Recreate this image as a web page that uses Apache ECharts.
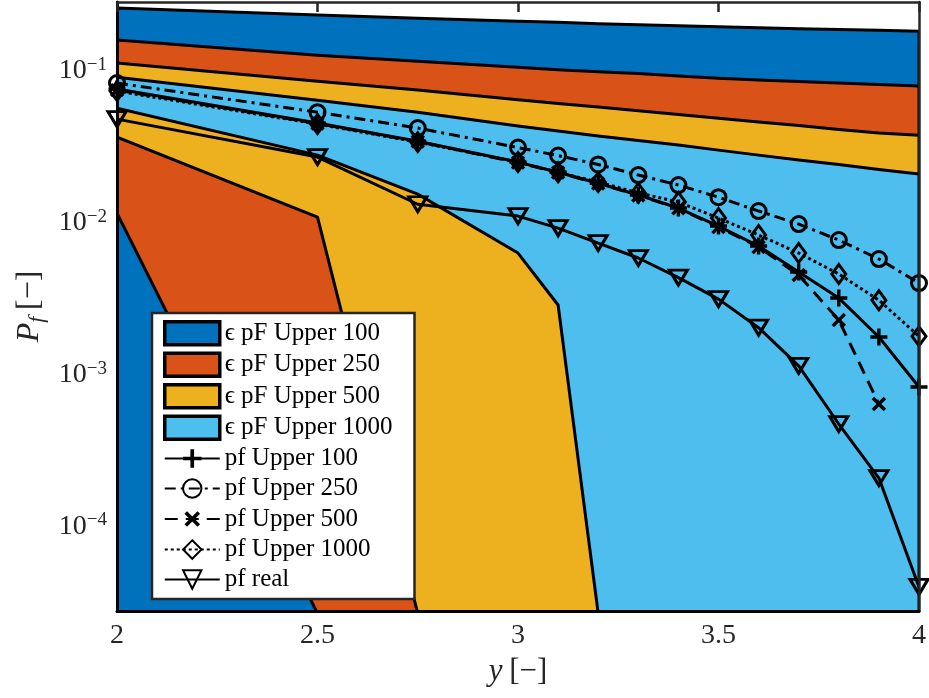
<!DOCTYPE html>
<html>
<head>
<meta charset="utf-8">
<script src="https://cdn.jsdelivr.net/npm/echarts@6/dist/echarts.min.js"></script>
<style>
html, body { margin: 0; padding: 0; background: #fff; }
#chart { width: 929px; height: 698px; }
</style>
</head>
<body>
<div id="chart"></div>
<script>
var FONT = 'Liberation Serif';

var xs = [2, 2.5, 2.75, 3, 3.1, 3.2, 3.3, 3.4, 3.5, 3.6, 3.7, 3.8, 3.9, 4];

// epsilon pF bands: upper and lower edges (lower edges run off the bottom of the axis)
var bandUp100  = [0.260, 0.234, 0.223, 0.213, 0.210, 0.205, 0.202, 0.199, 0.196, 0.193, 0.190, 0.188, 0.186, 0.183];
var bandLo100  = [1e-6, 1e-6, 1e-6, 1e-6, 1e-6, 1e-6, 1e-6, 1e-6, 1e-6, 1e-6, 1e-6, 1e-6, 1e-6, 1e-6];
var bandUp250  = [0.160, 0.127, 0.116, 0.106, 0.102, 0.0992, 0.0963, 0.0927, 0.0899, 0.0873, 0.0853, 0.0834, 0.0815, 0.0797];
var bandLo250  = [0.01164, 2.7e-5, 1e-6, 1e-6, 1e-6, 1e-6, 1e-6, 1e-6, 1e-6, 1e-6, 1e-6, 1e-6, 1e-6, 1e-6];
var bandUp500  = [0.113, 0.0859, 0.0750, 0.0648, 0.0613, 0.0580, 0.0548, 0.0518, 0.0490, 0.0463, 0.0438, 0.0413, 0.0391, 0.0379];
var bandLo500  = [0.0368, 0.01095, 2.7e-5, 1e-6, 1e-6, 1e-6, 1e-6, 1e-6, 1e-6, 1e-6, 1e-6, 1e-6, 1e-6, 1e-6];
var bandUp1000 = [0.0913, 0.0644, 0.0537, 0.0435, 0.0403, 0.0374, 0.0349, 0.0326, 0.0302, 0.0280, 0.0260, 0.0243, 0.0225, 0.0210];
var bandLo1000 = [0.0571, 0.0280, 0.0155, 0.00635, 0.00289, 2.7e-5, 1e-6, 1e-6, 1e-6, 1e-6, 1e-6, 1e-6, 1e-6, 1e-6];

// pf curves
var pfUpper100  = [0.0762, 0.0455, 0.0346, 0.0252, 0.0216, 0.0183, 0.0153, 0.01256, 0.00956, 0.00706, 0.00476, 0.00321, 0.00178, 0.000834];
var pfUpper250  = [0.0834, 0.0537, 0.0422, 0.0314, 0.0278, 0.0243, 0.0207, 0.0178, 0.0148, 0.0120, 0.00985, 0.00773, 0.00580, 0.00403];
var pfUpper500  = [0.0750, 0.0452, 0.0344, 0.0250, 0.0215, 0.0182, 0.0152, 0.01250, 0.00941, 0.00695, 0.00455, 0.00230, 0.000645, null];
var pfUpper1000 = [0.0739, 0.0448, 0.0341, 0.0252, 0.0216, 0.0186, 0.0158, 0.01375, 0.01079, 0.00834, 0.00635, 0.00462, 0.00311, 0.00180];
var pfReal      = [0.0483, 0.0272, 0.0133, 0.01112, 0.00927, 0.00739, 0.00589, 0.00438, 0.00316, 0.00205, 0.00115, 0.000476, 0.000210, 0.0000403];

var yTickMin = 2.8e-5, yTickMax = 0.285;

var chart = echarts.init(document.getElementById('chart'));

function pairs(arr) {
    return xs.map(function (x, i) { return [x, arr[i] == null ? '-' : arr[i]]; });
}

function band(name, color, up, lo) {
    var poly = [];
    for (var i = 0; i < xs.length; i++) poly.push([xs[i], up[i]]);
    for (var j = xs.length - 1; j >= 0; j--) poly.push([xs[j], lo[j]]);
    return {
        name: name,
        type: 'custom',
        clip: true,
        z: 1,
        itemStyle: { color: color },
        encode: { x: 0, y: 1 },
        data: poly,
        renderItem: function (params, api) {
            if (params.dataIndex !== 0) return;
            var pts = poly.map(function (p) { return api.coord(p); });
            return {
                type: 'polygon',
                shape: { points: pts },
                style: { fill: color, stroke: '#000', lineWidth: 3, lineJoin: 'round' }
            };
        }
    };
}

var plusPath = 'path://M6,0H9V6H15V9H9V15H6V9H0V6H6Z';

function pfLine(name, arr, dash, symbol, size, rotate, filled) {
    return {
        name: name,
        type: 'line',
        z: 2,
        data: pairs(arr),
        symbol: symbol,
        symbolSize: size,
        symbolRotate: rotate,
        symbolKeepAspect: true,
        showAllSymbol: true,
        lineStyle: { color: '#000', width: 3, type: dash },
        itemStyle: filled
            ? { color: '#000', borderWidth: 0 }
            : { color: 'rgba(255,255,255,0)', borderColor: '#000', borderWidth: 3 }
    };
}

var bandColors = ['#0072BD', '#D95319', '#EDB120', '#4DBEEE'];
var bandNames = ['ϵ pF Upper 100', 'ϵ pF Upper 250', 'ϵ pF Upper 500', 'ϵ pF Upper 1000'];
var lineNames = ['pf Upper 100', 'pf Upper 250', 'pf Upper 500', 'pf Upper 1000', 'pf real'];

var legendData = bandNames.map(function (n, i) {
    return { name: n, icon: 'rect', itemStyle: { color: bandColors[i], borderColor: '#000', borderWidth: 3.5 } };
}).concat(lineNames.map(function (n) { return { name: n }; }));

option = {
    animation: false,
    backgroundColor: '#fff',
    grid: { left: 117, right: 8, top: 2, bottom: 87 },
    legend: {
        orient: 'vertical',
        left: 152,
        top: 313,
        padding: [7, 22, 7, 11],
        itemWidth: 55,
        itemHeight: 23,
        itemGap: 5,
        selectedMode: false,
        backgroundColor: '#fff',
        borderColor: '#262626',
        borderWidth: 2.5,
        z: 10,
        textStyle: { fontFamily: FONT, fontSize: 25, color: '#000', lineHeight: 23 },
        data: legendData
    },
    xAxis: [{
        type: 'value',
        min: 2,
        max: 4,
        interval: 0.5,
        position: 'bottom',
        z: 3,
        axisLine: { onZero: false, lineStyle: { color: '#000', width: 3 } },
        axisTick: { show: false },
        splitLine: { show: false },
        axisLabel: { fontFamily: FONT, fontSize: 28, color: '#262626', margin: 11 },
        name: '{i|y}  {n|[−]}',
        nameLocation: 'middle',
        nameGap: 45,
        nameTextStyle: {
            rich: {
                i: { fontFamily: FONT, fontSize: 31, fontStyle: 'italic', color: '#262626' },
                n: { fontFamily: FONT, fontSize: 31, color: '#262626' }
            }
        }
    }, {
        type: 'value',
        min: 2,
        max: 4,
        interval: 0.5,
        position: 'top',
        z: 3,
        axisLine: { onZero: false, lineStyle: { color: '#262626', width: 2.5 } },
        axisTick: { show: true, inside: true, length: 10, lineStyle: { color: '#262626', width: 2.5 } },
        axisLabel: { show: false },
        splitLine: { show: false }
    }],
    yAxis: [{
        type: 'log',
        logBase: 10,
        min: yTickMin,
        max: yTickMax,
        position: 'left',
        z: 3,
        axisLine: { show: true, onZero: false, lineStyle: { color: '#000', width: 3 } },
        axisTick: { show: false },
        minorTick: { show: false },
        splitLine: { show: false },
        axisLabel: {
            margin: 10,
            color: '#262626',
            formatter: function (v) {
                var e = Math.log10(v);
                var r = Math.round(e);
                if (Math.abs(e - r) > 1e-6) return '';
                return '{b|10}{s|' + (r < 0 ? '−' : '') + Math.abs(r) + '}';
            },
            rich: {
                b: { fontFamily: FONT, fontSize: 28, lineHeight: 32, color: '#262626' },
                s: { fontFamily: FONT, fontSize: 19, lineHeight: 12, verticalAlign: 'top', color: '#262626' }
            }
        },
        name: '{i|P}{sub|f}  {n|[−]}',
        nameLocation: 'middle',
        nameRotate: 90,
        nameGap: 60,
        nameTextStyle: {
            rich: {
                i: { fontFamily: FONT, fontSize: 32, fontStyle: 'italic', lineHeight: 36, color: '#262626' },
                sub: { fontFamily: FONT, fontSize: 22, fontStyle: 'italic', lineHeight: 14, verticalAlign: 'bottom', color: '#262626' },
                n: { fontFamily: FONT, fontSize: 32, lineHeight: 36, color: '#262626' }
            }
        }
    }, {
        type: 'log',
        logBase: 10,
        min: yTickMin,
        max: yTickMax,
        position: 'right',
        z: 3,
        axisLine: { show: true, onZero: false, lineStyle: { color: '#262626', width: 2.5 } },
        axisTick: { show: false },
        axisLabel: { show: false },
        splitLine: { show: false }
    }],
    series: [
        band(bandNames[0], bandColors[0], bandUp100, bandLo100),
        band(bandNames[1], bandColors[1], bandUp250, bandLo250),
        band(bandNames[2], bandColors[2], bandUp500, bandLo500),
        band(bandNames[3], bandColors[3], bandUp1000, bandLo1000),
        pfLine(lineNames[0], pfUpper100, 'solid', plusPath, 17, 0, true),
        pfLine(lineNames[1], pfUpper250, [11, 5, 3, 5], 'circle', 15, 0, false),
        pfLine(lineNames[2], pfUpper500, [13, 8], plusPath, 17, 45, true),
        pfLine(lineNames[3], pfUpper1000, [3, 3], 'diamond', [14, 19], 0, false),
        pfLine(lineNames[4], pfReal, 'solid', 'triangle', [18, 15], 180, false)
    ]
};

chart.setOption(option);
</script>
</body>
</html>
